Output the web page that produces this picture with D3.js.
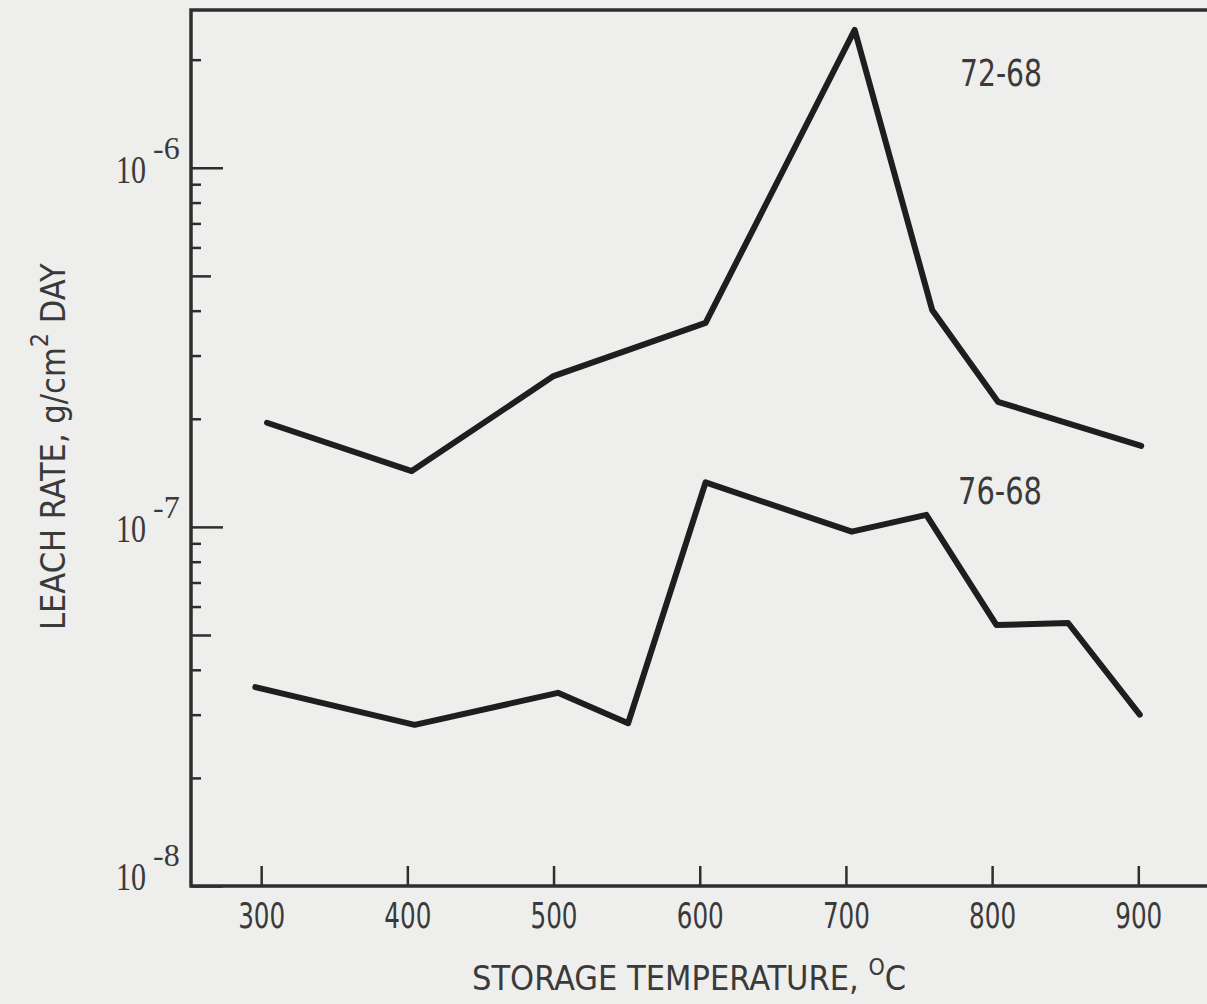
<!DOCTYPE html>
<html>
<head>
<meta charset="utf-8">
<script src="https://cdn.jsdelivr.net/npm/d3@7"></script>
<style>
	html, body { margin: 0; padding: 0; background: #eeeeec; overflow: hidden; }
	svg { display: block; }
	.lbl { font-family: "DejaVu Sans Condensed", "Liberation Sans Narrow", "Arial Narrow", sans-serif; fill: #3a3a3a; }
	.serif { font-family: "Liberation Serif", "DejaVu Serif", serif; fill: #3a3a3a; }
</style>
</head>
<body>
<svg id="chart"></svg>
<script>
// values
var temps72 = [304, 403, 500, 604, 706, 759, 804, 902];
var rates72 = [1.95e-7, 1.43e-7, 2.63e-7, 3.7e-7, 2.42e-6, 4.02e-7, 2.23e-7, 1.68e-7];
var temps76 = [296, 405, 503, 551, 604, 704, 755, 803, 852, 901];
var rates76 = [3.58e-8, 2.81e-8, 3.45e-8, 2.84e-8, 1.33e-7, 9.7e-8, 1.08e-7, 5.33e-8, 5.4e-8, 3.0e-8];
var seriesNames = ['72-68', '76-68'];

var xTicks = [300, 400, 500, 600, 700, 800, 900];
var yMajor = [1e-8, 1e-7, 1e-6];
var yExps = ['-8', '-7', '-6'];
var yMid = [5e-8, 5e-7];
var yMinor = [2e-8, 3e-8, 4e-8, 6e-8, 7e-8, 8e-8, 9e-8,
	2e-7, 3e-7, 4e-7, 6e-7, 7e-7, 8e-7, 9e-7, 2e-6];

var W = 1207, H = 1004;
var plotLeft = 191, plotTop = 10, plotBottom = 886;

var svg = d3.select('#chart').attr('width', W).attr('height', H);

var x = d3.scaleLinear().domain([252, 947]).range([plotLeft, W]);
var y = d3.scaleLog().domain([1e-8, 2.75e-6]).range([plotBottom, plotTop]);

// y ticks, pointing inwards
function yAxis(values, len) {
	svg.append('g')
		.attr('transform', 'translate(' + plotLeft + ',0)')
		.call(d3.axisRight(y).tickValues(values).tickSize(len).tickFormat(''))
		.call(g => g.select('.domain').remove())
		.selectAll('line').attr('stroke', '#2e2e2e').attr('stroke-width', 2.5);
}
yAxis(yMajor, 32);
yAxis(yMid, 20);
yAxis(yMinor, 10);

// x ticks up, labels below
var xg = svg.append('g')
	.attr('transform', 'translate(0,' + plotBottom + ')')
	.call(d3.axisBottom(x).tickValues(xTicks).tickSize(-20).tickPadding(16));
xg.select('.domain').remove();
xg.selectAll('line').attr('stroke', '#2e2e2e').attr('stroke-width', 2.5);
xg.selectAll('text')
	.attr('class', 'lbl')
	.attr('font-size', 36)
	.attr('fill', '#3a3a3a')
	.attr('textLength', 47)
	.attr('lengthAdjust', 'spacingAndGlyphs');

// frame
svg.append('path')
	.attr('d', 'M' + W + ',' + plotTop + 'H' + plotLeft + 'V' + plotBottom + 'H' + W)
	.attr('stroke', '#2e2e2e').attr('stroke-width', 3.5).attr('fill', 'none');

// decade labels
yMajor.forEach(function (v, i) {
	var t = svg.append('text').attr('class', 'serif')
		.attr('x', 116)
		.attr('y', y(v) + (i === 0 ? 4 : 15))
		.attr('font-size', 40);
	t.append('tspan').attr('textLength', 30).attr('lengthAdjust', 'spacingAndGlyphs').text('10');
	t.append('tspan').attr('dx', 7).attr('dy', -24).attr('font-size', 32).text(yExps[i]);
});

// series
var line = d3.line()
	.x(d => x(d[0]))
	.y(d => y(d[1]));

[[temps72, rates72], [temps76, rates76]].forEach(function (s) {
	svg.append('path')
		.datum(d3.zip(s[0], s[1]))
		.attr('d', line)
		.attr('fill', 'none')
		.attr('stroke', '#1e1e1e')
		.attr('stroke-width', 6)
		.attr('stroke-linejoin', 'round')
		.attr('stroke-linecap', 'round');
});

// series labels
svg.append('text').attr('class', 'lbl').attr('x', 960).attr('y', 86).attr('font-size', 37)
	.attr('textLength', 82).attr('lengthAdjust', 'spacingAndGlyphs').text(seriesNames[0]);
svg.append('text').attr('class', 'lbl').attr('x', 958).attr('y', 504).attr('font-size', 37)
	.attr('textLength', 84).attr('lengthAdjust', 'spacingAndGlyphs').text(seriesNames[1]);

// axis titles
var xt = svg.append('text').attr('class', 'lbl')
	.attr('x', 472).attr('y', 990).attr('font-size', 34);
xt.append('tspan').text('STORAGE TEMPERATURE, ');
xt.append('tspan').attr('dy', -15).attr('font-size', 23).text('O');
xt.append('tspan').attr('dy', 15).text('C');

var yt = svg.append('text').attr('class', 'lbl')
	.attr('transform', 'translate(65,630) rotate(-90)')
	.attr('font-size', 34);
yt.append('tspan').text('LEACH RATE,  g/cm');
yt.append('tspan').attr('dy', -17).attr('font-size', 25).text('2');
yt.append('tspan').attr('dy', 17).text(' DAY');
</script>
</body>
</html>
